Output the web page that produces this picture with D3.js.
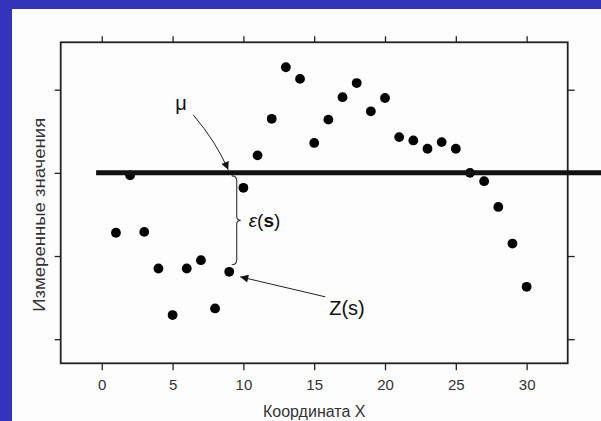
<!DOCTYPE html>
<html>
<head>
<meta charset="utf-8">
<script src="https://cdn.jsdelivr.net/npm/d3@7"></script>
<style>
  body { margin: 0; background: #3333bb; }
  svg { display: block; }
  text { font-family: "Liberation Sans", Arial, sans-serif; }
</style>
</head>
<body>
<div id="chart"></div>
<script>
// Data
const xValues = [1, 2, 3, 4, 5, 6, 7, 8, 9, 10, 11, 12, 13, 14, 15,
                 16, 17, 18, 19, 20, 21, 22, 23, 24, 25, 26, 27, 28, 29, 30];
const zValues = [2.28, 2.97, 2.29, 1.85, 1.29, 1.85, 1.95, 1.37, 1.81, 2.82,
                 3.21, 3.65, 4.27, 4.13, 3.36, 3.64, 3.91, 4.08, 3.74, 3.90,
                 3.43, 3.39, 3.29, 3.37, 3.29, 3.00, 2.90, 2.59, 2.15, 1.63];
const muValue = 3;
const muLineRange = [-0.4, 36];
const xTicks = [0, 5, 10, 15, 20, 25, 30];
const yTicks = [1, 2, 3, 4];
const xTitle = 'Координата X';
const yTitle = 'Измеренные значения';
const annotatedIndex = 8; // the point marked Z(s)

const width = 601, height = 421;

const svg = d3.select('#chart')
    .append('svg')
    .attr('width', width)
    .attr('height', height);

// white slide panel
svg.append('rect')
    .attr('x', 12).attr('y', 9)
    .attr('width', width - 12).attr('height', height - 9)
    .attr('fill', '#fdfdfd');

const x = d3.scaleLinear().domain([-2.9, 32.9]).range([60.7, 567.7]);
const y = d3.scaleLinear().domain([0.71, 4.57]).range([363.3, 42.3]);

const [x0, x1] = x.range();
const [y0, y1] = y.range();

// axes
const axisColor = '#222';
function styleAxis(g) {
    g.select('.domain').remove();
    g.selectAll('.tick line').attr('stroke', axisColor).attr('stroke-width', 1.3);
    g.selectAll('.tick text')
        .attr('fill', '#333')
        .style('font-size', '15px');
}

svg.append('g')
    .attr('transform', `translate(0,${y0})`)
    .call(d3.axisBottom(x).tickValues(xTicks).tickSize(7).tickPadding(9))
    .call(styleAxis);

svg.append('g')
    .attr('transform', `translate(0,${y1})`)
    .call(d3.axisTop(x).tickValues(xTicks).tickSize(6).tickFormat(''))
    .call(styleAxis);

svg.append('g')
    .attr('transform', `translate(${x0},0)`)
    .call(d3.axisLeft(y).tickValues(yTicks).tickSize(6).tickFormat(''))
    .call(styleAxis);

svg.append('g')
    .attr('transform', `translate(${x1},0)`)
    .call(d3.axisRight(y).tickValues(yTicks).tickSize(7).tickFormat(''))
    .call(styleAxis);

// frame
svg.append('rect')
    .attr('x', x0).attr('y', y1)
    .attr('width', x1 - x0).attr('height', y0 - y1)
    .attr('fill', 'none')
    .attr('stroke', axisColor)
    .attr('stroke-width', 1.8);

// points
const points = xValues.map((v, i) => ({ x: v, z: zValues[i] }));

svg.append('g')
    .selectAll('circle')
    .data(points)
    .enter()
    .append('circle')
    .attr('cx', d => x(d.x))
    .attr('cy', d => y(d.z))
    .attr('r', 4.9)
    .attr('fill', '#000');

// mean line
svg.append('line')
    .attr('x1', x(muLineRange[0]))
    .attr('x2', x(muLineRange[1]))
    .attr('y1', y(muValue))
    .attr('y2', y(muValue))
    .attr('stroke', '#111')
    .attr('stroke-width', 5);

// arrow marker
svg.append('defs')
    .append('marker')
    .attr('id', 'arrow')
    .attr('viewBox', '0 0 10 10')
    .attr('refX', 10).attr('refY', 5)
    .attr('markerWidth', 11).attr('markerHeight', 8)
    .attr('markerUnits', 'userSpaceOnUse')
    .attr('orient', 'auto')
    .append('path')
    .attr('d', 'M0,0 L10,5 L0,10 Z')
    .attr('fill', '#111');

// annotations
const p = points[annotatedIndex];
const px = x(p.x), py = y(p.z), my = y(muValue);

// mu arrow
const tipX = px - 1, tipY = my - 3;
svg.append('path')
    .attr('d', `M${tipX - 35},${tipY - 55} Q${tipX - 12},${tipY - 28} ${tipX},${tipY}`)
    .attr('fill', 'none')
    .attr('stroke', '#222')
    .attr('stroke-width', 1)
    .attr('marker-end', 'url(#arrow)');

svg.append('text')
    .attr('x', tipX - 53)
    .attr('y', tipY - 60)
    .style('font-size', '20px')
    .attr('fill', '#111')
    .text('μ');

// brace for epsilon
const bx = px + 7.5, bTop = my + 3, bBot = py - 7, bMid = (bTop + bBot) / 2;
svg.append('path')
    .attr('d', `M${bx - 5},${bTop} Q${bx},${bTop} ${bx},${bTop + 5}
                L${bx},${bMid - 4} Q${bx},${bMid} ${bx + 4},${bMid}
                Q${bx},${bMid} ${bx},${bMid + 4}
                L${bx},${bBot - 5} Q${bx},${bBot} ${bx - 5},${bBot}`)
    .attr('fill', 'none')
    .attr('stroke', '#333')
    .attr('stroke-width', 1.1);

const eps = svg.append('text')
    .attr('x', bx + 12)
    .attr('y', bMid + 7)
    .style('font-size', '19px')
    .attr('fill', '#111');
eps.append('tspan').style('font-style', 'italic').text('ε');
eps.append('tspan').text('(');
eps.append('tspan').style('font-weight', 'bold').text('s');
eps.append('tspan').text(')');

// Z(s) arrow
svg.append('line')
    .attr('x1', px + 96).attr('y1', py + 25)
    .attr('x2', px + 11).attr('y2', py + 5)
    .attr('stroke', '#222')
    .attr('stroke-width', 1)
    .attr('marker-end', 'url(#arrow)');

svg.append('text')
    .attr('x', px + 100)
    .attr('y', py + 43)
    .style('font-size', '20px')
    .attr('fill', '#111')
    .text('Z(s)');

// axis titles
svg.append('text')
    .attr('x', (x0 + x1) / 2)
    .attr('y', 417)
    .attr('text-anchor', 'middle')
    .style('font-size', '16px')
    .attr('fill', '#333')
    .text(xTitle);

svg.append('text')
    .attr('transform', `translate(45,${(y0 + y1) / 2 + 12}) rotate(-90)`)
    .attr('text-anchor', 'middle')
    .style('font-size', '17px')
    .attr('textLength', 194)
    .attr('lengthAdjust', 'spacingAndGlyphs')
    .attr('fill', '#333')
    .text(yTitle);
</script>
</body>
</html>
